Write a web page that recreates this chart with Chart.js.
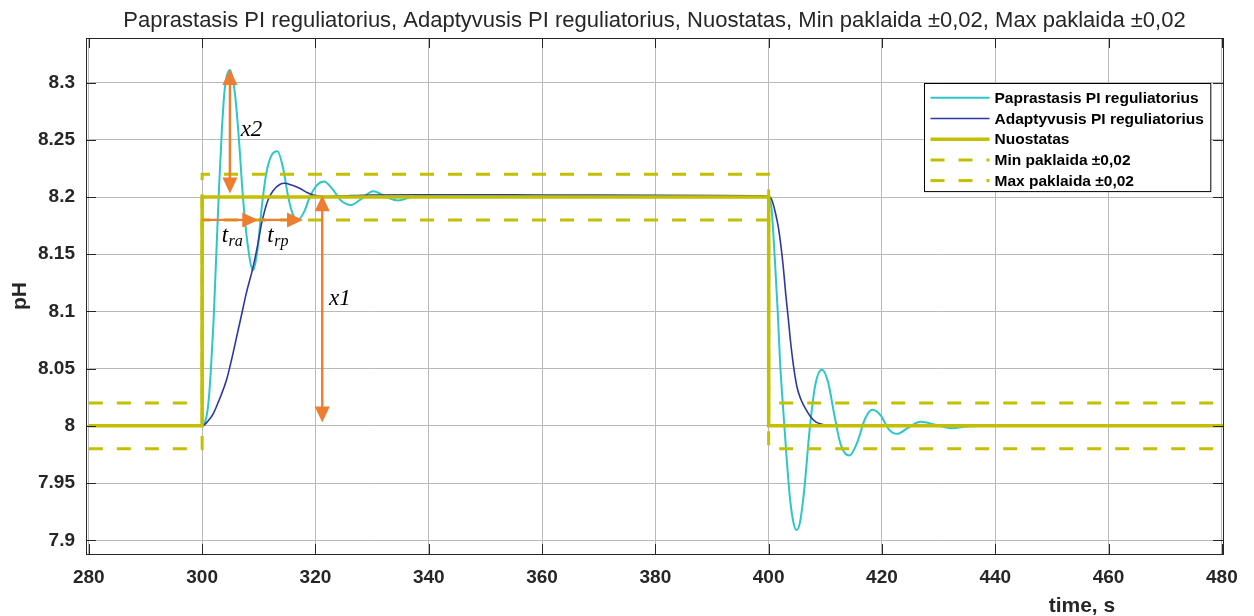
<!DOCTYPE html>
<html>
<head>
<meta charset="utf-8">
<script src="https://cdn.jsdelivr.net/npm/chart.js@4.4.1/dist/chart.umd.min.js"></script>
<style>
  html, body { margin: 0; padding: 0; background: #fff; }
</style>
</head>
<body>
<canvas id="c" width="1254" height="616"></canvas>
<script>
// ---- Text ----
const chartTitle = 'Paprastasis PI reguliatorius, Adaptyvusis PI reguliatorius, Nuostatas, Min paklaida ±0,02, Max paklaida ±0,02';
const xAxisTitle = 'time, s';
const yAxisTitle = 'pH';

// ---- Axes ----
const xRange = [279.5, 480.2];
const yRange = [7.888, 8.339];
const xTicks = [280, 300, 320, 340, 360, 380, 400, 420, 440, 460, 480];
const xTickLabels = ['280', '300', '320', '340', '360', '380', '400', '420', '440', '460', '480'];
const yTicks = [7.9, 7.95, 8.0, 8.05, 8.1, 8.15, 8.2, 8.25, 8.3];
const yTickLabels = ['7.9', '7.95', '8', '8.05', '8.1', '8.15', '8.2', '8.25', '8.3'];

// ---- Series ----
const seriesNames = [
  'Paprastasis PI reguliatorius',
  'Adaptyvusis PI reguliatorius',
  'Nuostatas',
  'Min paklaida ±0,02',
  'Max paklaida ±0,02'
];

// conventional PI controller response
const simpleTime = [280, 300, 300.5, 301, 301.5, 302, 302.5, 303, 303.5, 304, 304.9, 305.8, 306.5, 307.2, 308, 309,
  309.8, 310.5, 311.3, 312.2, 313.3, 314.3, 315.2, 316, 316.9, 318, 319, 320.2, 321.5, 323, 324.5, 326.3, 328,
  330.2, 332.5, 334.6, 337, 340, 350, 370, 398, 400,
  400.5, 401.1, 401.6, 402, 402.6, 403.2, 403.8, 404.4, 404.9, 405.5, 406.3, 407.2, 408.2, 409.4, 410.5, 411.5,
  412.7, 414.2, 415.6, 417, 418.3, 419.8, 421.2, 422.7, 424.5, 426.8, 429.5, 432.4, 435, 440, 480];
const simplePH = [8.0, 8.0, 8.003, 8.015, 8.045, 8.09, 8.15, 8.21, 8.26, 8.295, 8.311, 8.29, 8.25, 8.2, 8.16, 8.136,
  8.155, 8.19, 8.22, 8.236, 8.24, 8.225, 8.2, 8.185, 8.18, 8.187, 8.2, 8.21, 8.2135, 8.207, 8.197, 8.193, 8.198,
  8.205, 8.2, 8.197, 8.2, 8.2015, 8.201, 8.2008, 8.2006, 8.2004,
  8.19, 8.145, 8.10, 8.057, 8.012, 7.97, 7.935, 7.915, 7.909, 7.915, 7.945, 7.995, 8.035, 8.049, 8.038, 8.012,
  7.984, 7.974, 7.985, 8.006, 8.014, 8.009, 7.997, 7.993, 7.998, 8.0035, 8.001, 7.998, 7.9995, 8.0, 8.0];

// adaptive PI controller response
const adaptiveTime = [280, 300, 301, 302, 303.2, 304.3, 305.2, 306.1, 307, 307.8, 309, 309.8, 310.5, 311.6, 312.6,
  313.7, 314.5, 315.8, 317.2, 318.5, 319.6, 321.5, 324, 330, 340, 360, 380, 398, 400,
  400.6, 401.2, 401.7, 402.1, 402.6, 403, 403.5, 403.9, 404.4, 405, 405.7, 406.5, 407.4, 408.3, 409.4, 410.5, 480];
const adaptivePH = [8.0, 8.0, 8.004, 8.011, 8.025, 8.04, 8.058, 8.078, 8.098, 8.116, 8.139, 8.158, 8.177, 8.197, 8.206,
  8.211, 8.212, 8.2105, 8.2077, 8.204, 8.2018, 8.2005, 8.2008, 8.2018, 8.202, 8.2018, 8.2015, 8.201, 8.2004,
  8.197, 8.186, 8.174, 8.16, 8.138, 8.116, 8.092, 8.072, 8.052, 8.034, 8.023, 8.015, 8.008, 8.0035, 8.0015, 8.0, 8.0];

// setpoint and tolerance band
const setpointTime = [280, 300, 300, 400, 400, 480.2];
const setpointPH = [8.0, 8.0, 8.2, 8.2, 8.0, 8.0];
const minBandPH = [7.98, 7.98, 8.18, 8.18, 7.98, 7.98];
const maxBandPH = [8.02, 8.02, 8.22, 8.22, 8.02, 8.02];

// ---- Annotations (orange arrows and italic labels) ----
const arrowX = [[304.9, 304.9], [321.2, 321.2], [300, 309.9], [309.9, 317.8]];
const arrowY = [[8.312, 8.203], [8.2015, 8.003], [8.18, 8.18], [8.18, 8.18]];
const arrowHeads = ['both', 'both', 'end', 'end'];
const noteText = ['x2', 'x1', 't', 't'];
const noteSub = ['', '', 'ra', 'rp'];
const noteX = [306.8, 322.4, 303.45, 311.5];
const noteY = [8.2536, 8.1058, 8.1611, 8.1611];

const colors = {
  simple: '#2ec6c8',
  adaptive: '#2b3a9c',
  band: '#c2c000',
  arrow: '#ed7d31',
  axis: '#262626',
  grid: '#b9b9b9'
};

const toPoints = (xs, ys) => xs.map((x, i) => ({ x: x, y: ys[i] }));

// Axis frame, inward ticks, title, x-axis label
const framePlugin = {
  id: 'frame',
  beforeDraw(chart) {
    const ctx = chart.ctx;
    ctx.save();
    ctx.fillStyle = '#ffffff';
    ctx.fillRect(0, 0, chart.width, chart.height);
    ctx.restore();
  },
  afterDraw(chart) {
    const ctx = chart.ctx;
    const a = chart.chartArea;
    const xs = chart.scales.x, ys = chart.scales.y;
    ctx.save();
    ctx.strokeStyle = colors.axis;
    ctx.lineWidth = 1;
    ctx.strokeRect(Math.round(a.left) + 0.5, Math.round(a.top) + 0.5,
      Math.round(a.right - a.left), Math.round(a.bottom - a.top));
    const tl = 10;
    ctx.beginPath();
    xTicks.forEach(v => {
      const x = Math.round(xs.getPixelForValue(v)) + 0.5;
      ctx.moveTo(x, a.bottom); ctx.lineTo(x, a.bottom - tl);
      ctx.moveTo(x, a.top); ctx.lineTo(x, a.top + tl);
    });
    yTicks.forEach(v => {
      const y = Math.round(ys.getPixelForValue(v)) + 0.5;
      ctx.moveTo(a.left, y); ctx.lineTo(a.left + tl, y);
      ctx.moveTo(a.right, y); ctx.lineTo(a.right - tl, y);
    });
    ctx.stroke();

    // title
    ctx.fillStyle = colors.axis;
    ctx.font = '22px "Liberation Sans", Arial, sans-serif';
    ctx.textAlign = 'center';
    ctx.textBaseline = 'alphabetic';
    ctx.fillText(chartTitle, (a.left + a.right) / 2, 27);

    // x-axis label
    ctx.font = 'bold 21px "Liberation Sans", Arial, sans-serif';
    ctx.fillText(xAxisTitle, xs.getPixelForValue(455.3), 612);
    ctx.restore();
  }
};

// Orange measurement arrows with italic labels
const notesPlugin = {
  id: 'notes',
  afterDatasetsDraw(chart) {
    const ctx = chart.ctx;
    const xs = chart.scales.x, ys = chart.scales.y;
    const headLen = 16, headW = 15;
    ctx.save();
    ctx.fillStyle = colors.arrow;
    ctx.strokeStyle = colors.arrow;
    ctx.lineWidth = 2.4;
    arrowX.forEach((ax, i) => {
      const x1 = xs.getPixelForValue(ax[0]), y1 = ys.getPixelForValue(arrowY[i][0]);
      const x2 = xs.getPixelForValue(ax[1]), y2 = ys.getPixelForValue(arrowY[i][1]);
      const ang = Math.atan2(y2 - y1, x2 - x1);
      const dx = Math.cos(ang), dy = Math.sin(ang);
      const both = arrowHeads[i] === 'both';
      const sx = both ? x1 + dx * (headLen - 2) : x1, sy = both ? y1 + dy * (headLen - 2) : y1;
      const ex = x2 - dx * (headLen - 2), ey = y2 - dy * (headLen - 2);
      ctx.beginPath(); ctx.moveTo(sx, sy); ctx.lineTo(ex, ey); ctx.stroke();
      const head = (hx, hy, angle) => {
        ctx.save(); ctx.translate(hx, hy); ctx.rotate(angle);
        ctx.beginPath(); ctx.moveTo(0, 0); ctx.lineTo(-headLen, headW / 2); ctx.lineTo(-headLen, -headW / 2);
        ctx.closePath(); ctx.fill(); ctx.restore();
      };
      head(x2, y2, ang);
      if (both) head(x1, y1, ang + Math.PI);
    });

    ctx.fillStyle = '#000000';
    ctx.textAlign = 'left';
    ctx.textBaseline = 'alphabetic';
    noteText.forEach((t, i) => {
      const x = xs.getPixelForValue(noteX[i]), y = ys.getPixelForValue(noteY[i]);
      ctx.font = 'italic 23px "Liberation Serif", "Times New Roman", serif';
      ctx.fillText(t, x, y);
      if (noteSub[i]) {
        const w = ctx.measureText(t).width;
        ctx.font = 'italic 16px "Liberation Serif", "Times New Roman", serif';
        ctx.fillText(noteSub[i], x + w + 0.5, y + 4);
      }
    });
    ctx.restore();
  }
};

// Boxed legend in the upper right of the plot area
const legendBoxPlugin = {
  id: 'legendBox',
  afterDraw(chart) {
    const ctx = chart.ctx;
    const a = chart.chartArea;
    const sets = chart.data.datasets;
    ctx.save();
    ctx.font = 'bold 15.5px "Liberation Sans", Arial, sans-serif';
    const maxW = Math.max(...sets.map(d => ctx.measureText(d.label).width));
    const sampleL = 6, sampleLen = 59, textGap = 5, padR = 7;
    const rowH = 20.7, firstRow = 14.3;
    const w = sampleL + sampleLen + textGap + maxW + padR;
    const h = firstRow + rowH * (sets.length - 1) + 11;
    const right = a.right - 12.5;
    const left = Math.round(right - w) + 0.5;
    const top = Math.round(a.top + 44.5) + 0.5;
    ctx.fillStyle = '#ffffff';
    ctx.fillRect(left, top, w, h);
    ctx.strokeStyle = '#000000';
    ctx.lineWidth = 1;
    ctx.strokeRect(left, top, w, h);
    sets.forEach((d, i) => {
      const y = top + firstRow + rowH * i;
      ctx.save();
      ctx.strokeStyle = d.borderColor;
      ctx.lineWidth = d.borderWidth;
      ctx.setLineDash(d.borderDash || []);
      ctx.beginPath();
      ctx.moveTo(left + sampleL, y);
      ctx.lineTo(left + sampleL + sampleLen, y);
      ctx.stroke();
      ctx.restore();
      ctx.fillStyle = '#000000';
      ctx.textAlign = 'left';
      ctx.textBaseline = 'middle';
      ctx.fillText(d.label, left + sampleL + sampleLen + textGap, y + 1);
    });
    ctx.restore();
  }
};

const tickFont = { family: '"Liberation Sans", Arial, sans-serif', size: 19, weight: 'bold' };

new Chart(document.getElementById('c'), {
  type: 'line',
  data: {
    datasets: [
      { label: seriesNames[0], data: toPoints(simpleTime, simplePH), borderColor: colors.simple,
        borderWidth: 2, cubicInterpolationMode: 'monotone', order: 5 },
      { label: seriesNames[1], data: toPoints(adaptiveTime, adaptivePH), borderColor: colors.adaptive,
        borderWidth: 1.6, cubicInterpolationMode: 'monotone', order: 4 },
      { label: seriesNames[2], data: toPoints(setpointTime, setpointPH), borderColor: colors.band,
        borderWidth: 3.5, order: 3 },
      { label: seriesNames[3], data: toPoints(setpointTime, minBandPH), borderColor: colors.band,
        borderWidth: 3, borderDash: [14, 14], order: 2 },
      { label: seriesNames[4], data: toPoints(setpointTime, maxBandPH), borderColor: colors.band,
        borderWidth: 3, borderDash: [14, 14], order: 1 }
    ]
  },
  options: {
    responsive: false,
    animation: false,
    devicePixelRatio: 1,
    layout: { padding: { top: 38, right: 31, left: 0, bottom: 0 } },
    elements: { point: { radius: 0, hoverRadius: 0 }, line: { fill: false, borderCapStyle: 'butt' } },
    plugins: { legend: { display: false }, title: { display: false }, tooltip: { enabled: false } },
    events: [],
    scales: {
      x: {
        type: 'linear', min: xRange[0], max: xRange[1],
        afterBuildTicks: s => { s.ticks = xTicks.map(v => ({ value: v })); },
        afterFit: s => { s.height = 62; },
        ticks: { font: tickFont, color: colors.axis, padding: 12, maxRotation: 0, autoSkip: false,
          callback: v => xTickLabels[xTicks.indexOf(v)] },
        grid: { color: colors.grid, lineWidth: 1, drawTicks: false },
        border: { display: false }
      },
      y: {
        type: 'linear', min: yRange[0], max: yRange[1],
        afterBuildTicks: s => { s.ticks = yTicks.map(v => ({ value: v })); },
        afterFit: s => { s.width = 86; },
        ticks: { font: tickFont, color: colors.axis, padding: 11, autoSkip: false,
          callback: v => yTickLabels[yTicks.indexOf(v)] },
        grid: { color: colors.grid, lineWidth: 1, drawTicks: false },
        border: { display: false },
        title: { display: true, text: yAxisTitle, color: colors.axis,
          font: { family: '"Liberation Sans", Arial, sans-serif', size: 21, weight: 'bold' },
          padding: { top: 8, bottom: 0 } }
      }
    }
  },
  plugins: [framePlugin, notesPlugin, legendBoxPlugin]
});
</script>
</body>
</html>
